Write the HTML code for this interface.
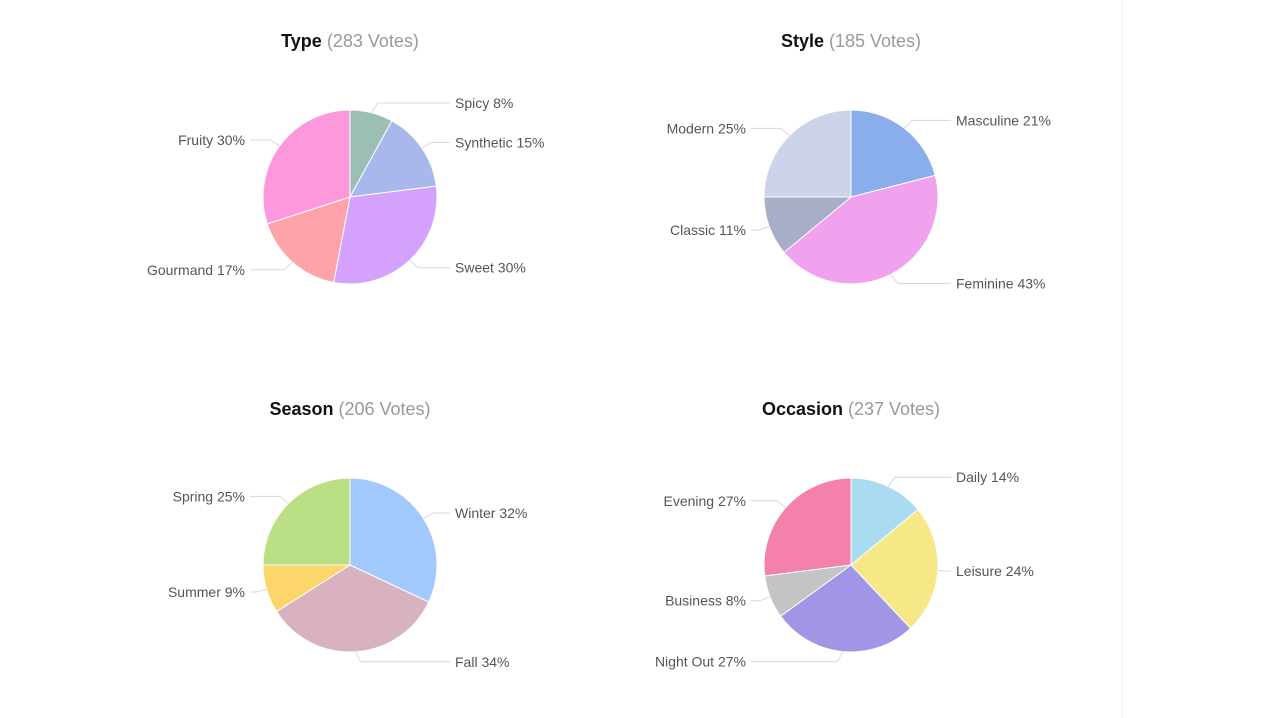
<!DOCTYPE html>
<html><head><meta charset="utf-8"><style>
html,body{margin:0;padding:0;background:#fff;width:1276px;height:718px;overflow:hidden}
svg{display:block}
text{font-family:"Liberation Sans","DejaVu Sans",sans-serif}
</style></head><body>
<svg id="chart" width="1276" height="718">
<line x1="1122.5" y1="0" x2="1122.5" y2="718" stroke="#eeeeee" stroke-width="1"/>
</svg>
<script>
const typeLabels=["Spicy","Synthetic","Sweet","Gourmand","Fruity"];
const typeValues=[8,15,30,17,30];
const styleLabels=["Masculine","Feminine","Classic","Modern"];
const styleValues=[21,43,11,25];
const seasonLabels=["Winter","Fall","Summer","Spring"];
const seasonValues=[32,34,9,25];
const occasionLabels=["Daily","Leisure","Night Out","Business","Evening"];
const occasionValues=[14,24,27,8,27];
const titles=["Type","Style","Season","Occasion"];
const votes=[283,185,206,237];

const charts=[
 {labels:typeLabels,values:typeValues,cx:350,cy:197,colors:["#9bbfb5","#a8b8ec","#d4a2fc","#fda3a9","#fe98dc"]},
 {labels:styleLabels,values:styleValues,cx:851,cy:197,colors:["#8aaeec","#f0a2ef","#a8adc8","#ccd3ea"]},
 {labels:seasonLabels,values:seasonValues,cx:350,cy:565,colors:["#a2c9fe","#d8b2bf","#fdd66b","#badf85"]},
 {labels:occasionLabels,values:occasionValues,cx:851,cy:565,colors:["#a9dcf1","#f6e887","#a195e6","#c4c4c4","#f381ab"]}
];
const NS="http://www.w3.org/2000/svg";
const svg=document.getElementById("chart");
const R=87;
function mk(tag,attrs,parent){const e=document.createElementNS(NS,tag);for(const k in attrs)e.setAttribute(k,attrs[k]);(parent||svg).appendChild(e);return e;}
charts.forEach((c,ci)=>{
 const g=mk("g",{});
 
 
 const t=mk("text",{x:c.cx,y:c.cy-150,"text-anchor":"middle","font-size":"18"},g);
 
 
 const t1=mk("tspan",{"font-weight":"bold",fill:"#111"},t);t1.textContent=titles[ci];
 const t2=mk("tspan",{fill:"#999"},t);t2.textContent=" ("+votes[ci]+" Votes)";
 const total=c.values.reduce((a,b)=>a+b,0);
 let acc=0;
 c.values.forEach((v,i)=>{
  const a0=acc/total*2*Math.PI, a1=(acc+v)/total*2*Math.PI, am=(a0+a1)/2;
  acc+=v;
  const x0=c.cx+R*Math.sin(a0),y0=c.cy-R*Math.cos(a0),x1=c.cx+R*Math.sin(a1),y1=c.cy-R*Math.cos(a1);
  const large=(a1-a0)>Math.PI?1:0;
  const p=mk("path",{d:`M${c.cx},${c.cy}L${x0},${y0}A${R},${R} 0 ${large} 1 ${x1},${y1}Z`,fill:c.colors[i],stroke:"#fff","stroke-width":"1"},g);
  
  
  const right=Math.sin(am)>=0;
  const ly=c.cy-(R+10)*Math.cos(am);
  const rx=c.cx+R*Math.sin(am), ry=c.cy-R*Math.cos(am);
  const ex=c.cx+(right?100:-100);
  const ln=mk("polyline",{points:`${rx},${ry} ${c.cx+(right?1:-1)*(R+5)*Math.abs(Math.sin(am))+(right?5:-5)},${ly} ${ex},${ly}`,fill:"none",stroke:"#d8d8d8","stroke-width":"1"},g);
  
  
  const lt=mk("text",{x:c.cx+(right?105:-105),y:ly+5,"text-anchor":right?"start":"end","font-size":"14",fill:"#555"},g);
  lt.textContent=c.labels[i]+" "+v+"%";
  
  
 });
});
</script>
</body></html>
